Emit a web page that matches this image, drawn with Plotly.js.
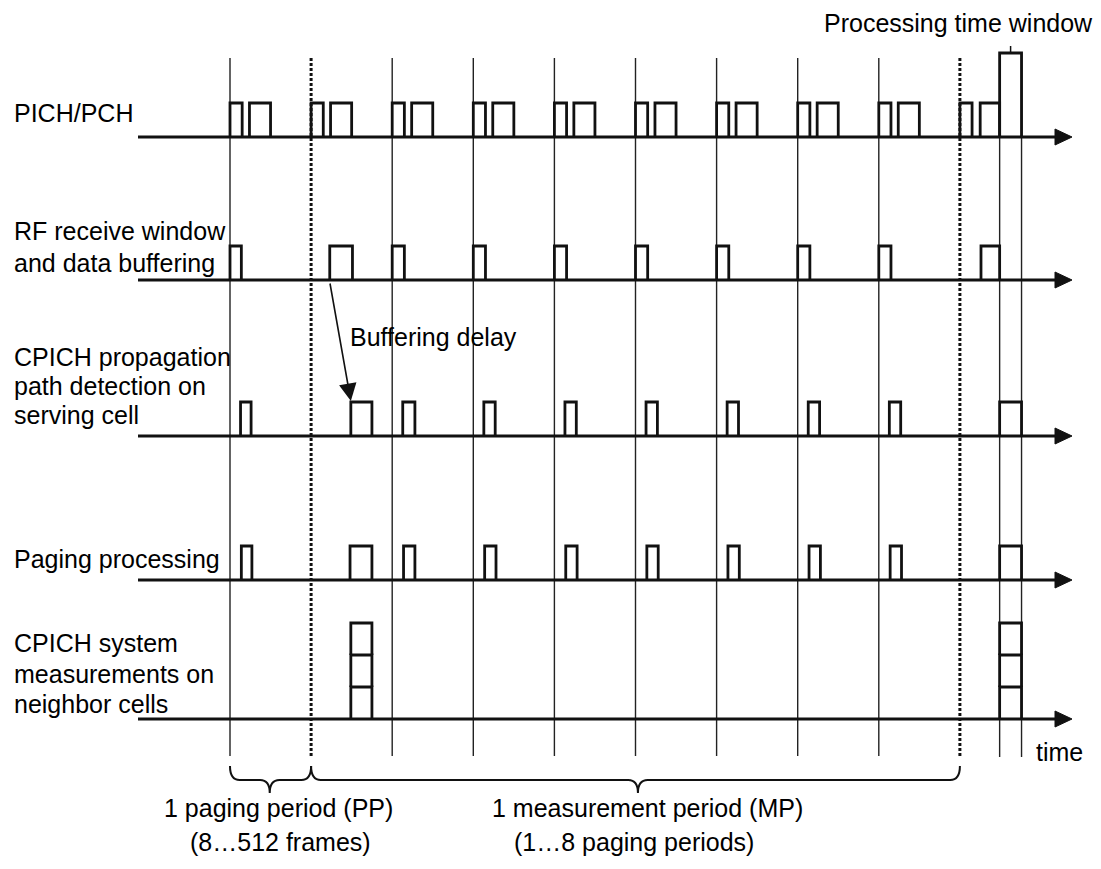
<!DOCTYPE html>
<html>
<head>
<meta charset="utf-8">
<script src="https://cdn.plot.ly/plotly-3.0.1.min.js"></script>
<style>html,body{margin:0;padding:0;background:#fff;}#chart{width:1101px;height:869px;}</style>
</head>
<body>
<div id="chart"></div>
<script>
// ---------------- DATA (time in paging periods) ----------------
const rowLabels = [
  ["PICH/PCH"],
  ["RF receive window", "and data buffering"],
  ["CPICH propagation", "path detection on", "serving cell"],
  ["Paging processing"],
  ["CPICH system", "measurements on", "neighbor cells"]
];
const solidBoundaries = [0, 2, 3, 4, 5, 6, 7, 8];      // paging period starts
const dottedBoundaries = [1, 9];                        // measurement period limits
const procWindowStart = 9.49;
const procWindowEnd = 9.76;
const procWindowHeight = 2.47;

const pichStart = [0.00, 0.24, 1.00, 1.24, 2.00, 2.24, 3.00, 3.24, 4.00, 4.24, 5.00, 5.24, 6.00, 6.24, 7.00, 7.24, 8.00, 8.24, 9.00, 9.25];
const pichEnd   = [0.15, 0.50, 1.15, 1.50, 2.15, 2.50, 3.15, 3.50, 4.15, 4.50, 5.15, 5.50, 6.15, 6.50, 7.15, 7.50, 8.15, 8.50, 9.15, 9.49];

const rfStart = [0.00, 1.23, 2.00, 3.00, 4.00, 5.00, 6.00, 7.00, 8.00, 9.26];
const rfEnd   = [0.14, 1.51, 2.15, 3.15, 4.15, 5.15, 6.15, 7.15, 8.15, 9.49];

const pathStart = [0.13, 1.49, 2.13, 3.13, 4.13, 5.13, 6.13, 7.13, 8.13, 9.49];
const pathEnd   = [0.26, 1.75, 2.28, 3.27, 4.27, 5.27, 6.27, 7.27, 8.27, 9.76];

const pagingStart = [0.14, 1.48, 2.14, 3.14, 4.14, 5.14, 6.14, 7.14, 8.14, 9.49];
const pagingEnd   = [0.27, 1.75, 2.28, 3.28, 4.28, 5.28, 6.28, 7.28, 8.28, 9.76];

const measStart = [1.49, 9.49];
const measEnd   = [1.75, 9.76];
const measStack = [3, 3];

const ppBrace = [0, 1];
const mpBrace = [1, 9];

// ---------------- LAYOUT CONSTANTS (pixels) ----------------
const W = 1101, H = 869;
const PX0 = 230, PXPER = 81.1;                 // x of t=0 and px per paging period
const t = px => (px - PX0) / PXPER;
const rowBase = [137, 280, 436, 580, 719];
const UNIT = 34, MUNIT = 32;
const LINE_TOP = 58, LINE_BOT = 756, PW_TOP = 53;
const AXIS_START = 138, ARROW_BACK = 1055, ARROW_TIP = 1072;
const FONT = {family: "Liberation Sans, Arial, sans-serif", size: 25, color: "#000"};
const INK = "#111";

const traces = [];

function pulseTrace(starts, ends, base, heights) {
  const x = [], y = [];
  starts.forEach((s, i) => {
    const h = (heights ? heights[i] : 1) * UNIT;
    x.push(s, s, ends[i], ends[i], null);
    y.push(base, base - h, base - h, base, null);
  });
  return {type: "scatter", mode: "lines", x, y, hoverinfo: "skip",
          line: {color: INK, width: 2.8}};
}

// vertical period lines
(function () {
  const x = [], y = [];
  solidBoundaries.forEach(b => { x.push(b, b, null); y.push(LINE_TOP, LINE_BOT, null); });
  [procWindowStart, procWindowEnd].forEach(b => { x.push(b, b, null); y.push(PW_TOP, LINE_BOT + 1, null); });
  traces.push({type: "scatter", mode: "lines", x, y, hoverinfo: "skip",
               line: {color: "#222", width: 1.4}});
  const dx = [], dy = [];
  dottedBoundaries.forEach(b => { dx.push(b, b, null); dy.push(LINE_TOP, LINE_BOT, null); });
  traces.push({type: "scatter", mode: "lines", x: dx, y: dy, hoverinfo: "skip",
               line: {color: INK, width: 3, dash: "3px,2px"}});
})();

// time axes with arrows
rowBase.forEach(b => {
  traces.push({type: "scatter", mode: "lines", x: [t(AXIS_START), t(ARROW_BACK) + 0.02], y: [b, b],
               hoverinfo: "skip", line: {color: INK, width: 3}});
  traces.push({type: "scatter", mode: "lines", fill: "toself", fillcolor: INK,
               x: [t(ARROW_BACK), t(ARROW_TIP), t(ARROW_BACK), t(ARROW_BACK)],
               y: [b - 8, b, b + 8, b - 8], hoverinfo: "skip", line: {color: INK, width: 1}});
});

// pulses
traces.push(pulseTrace(pichStart, pichEnd, rowBase[0]));
traces.push(pulseTrace([procWindowStart], [procWindowEnd], rowBase[0], [procWindowHeight]));
traces.push(pulseTrace(rfStart, rfEnd, rowBase[1]));
traces.push(pulseTrace(pathStart, pathEnd, rowBase[2]));
traces.push(pulseTrace(pagingStart, pagingEnd, rowBase[3]));

// stacked measurement boxes
(function () {
  const x = [], y = [];
  measStart.forEach((s, i) => {
    const e = measEnd[i], b = rowBase[4];
    for (let k = 0; k < measStack[i]; k++) {
      const y0 = b - k * MUNIT, y1 = b - (k + 1) * MUNIT;
      x.push(s, s, e, e, null);
      y.push(y0, y1, y1, y0, null);
    }
  });
  traces.push({type: "scatter", mode: "lines", x, y, hoverinfo: "skip",
               line: {color: INK, width: 2.8}});
})();

// processing window notch
const pwMid = (procWindowStart + procWindowEnd) / 2;
traces.push({type: "scatter", mode: "lines", x: [pwMid, pwMid], y: [PW_TOP, PW_TOP - 7],
             hoverinfo: "skip", line: {color: INK, width: 1.5}});

// ---------------- ANNOTATIONS ----------------
const annotations = [];
const labelY = [[113], [231, 263], [357, 386, 415], [559], [643, 674, 704]];
rowLabels.forEach((lines, r) => {
  lines.forEach((txt, k) => {
    annotations.push({text: txt, xref: "paper", yref: "y", x: 12 / W, y: labelY[r][k],
                      xanchor: "left", yanchor: "middle", showarrow: false, font: FONT});
  });
});
annotations.push({text: "Processing time window", xref: "paper", yref: "y", x: 1095 / W, y: 23,
                  xanchor: "right", yanchor: "middle", showarrow: false, font: FONT});
annotations.push({text: "Buffering delay", xref: "paper", yref: "y", x: 348 / W, y: 337,
                  xanchor: "left", yanchor: "middle", showarrow: false, font: FONT});
annotations.push({text: "", xref: "x", yref: "y", x: pathStart[1], y: rowBase[2] - UNIT - 1,
                  axref: "x", ayref: "y", ax: rfStart[1], ay: rowBase[1] + 2,
                  showarrow: true, arrowhead: 2, arrowsize: 2.2, arrowwidth: 1.6, arrowcolor: INK, standoff: 0});
annotations.push({text: "time", xref: "paper", yref: "y", x: 1059 / W, y: 752,
                  xanchor: "center", yanchor: "middle", showarrow: false, font: FONT});
annotations.push({text: "1 paging period (PP)", xref: "paper", yref: "y", x: 278 / W, y: 808,
                  xanchor: "center", yanchor: "middle", showarrow: false, font: FONT});
annotations.push({text: "(8\u2026512 frames)", xref: "paper", yref: "y", x: 280 / W, y: 842,
                  xanchor: "center", yanchor: "middle", showarrow: false, font: FONT});
annotations.push({text: "1 measurement period (MP)", xref: "paper", yref: "y", x: 647 / W, y: 808,
                  xanchor: "center", yanchor: "middle", showarrow: false, font: FONT});
annotations.push({text: "(1\u20268 paging periods)", xref: "paper", yref: "y", x: 634 / W, y: 842,
                  xanchor: "center", yanchor: "middle", showarrow: false, font: FONT});

// ---------------- BRACES ----------------
function bracePath(a, b, m, y0, y1, y2, r) {
  return `M${a},${y0} Q${a},${y1} ${a + r},${y1} L${m - r},${y1} Q${m},${y1} ${m},${y2} ` +
         `Q${m},${y1} ${m + r},${y1} L${b - r},${y1} Q${b},${y1} ${b},${y0}`;
}
const shapes = [
  {type: "path", xref: "x", yref: "y", line: {color: INK, width: 2},
   path: bracePath(ppBrace[0], ppBrace[1], (ppBrace[0] + ppBrace[1]) / 2 - 0.01, 766, 780, 793, 0.12)},
  {type: "path", xref: "x", yref: "y", line: {color: INK, width: 2},
   path: bracePath(mpBrace[0], mpBrace[1], 5.03, 766, 780, 793, 0.12)}
];

const layout = {
  width: W, height: H,
  margin: {l: 0, r: 0, t: 0, b: 0},
  paper_bgcolor: "#fff", plot_bgcolor: "#fff",
  showlegend: false,
  xaxis: {range: [t(0), t(W)], visible: false, fixedrange: true},
  yaxis: {range: [H, 0], visible: false, fixedrange: true},
  annotations, shapes
};
Plotly.newPlot("chart", traces, layout, {staticPlot: true, displayModeBar: false});
</script>
</body>
</html>
